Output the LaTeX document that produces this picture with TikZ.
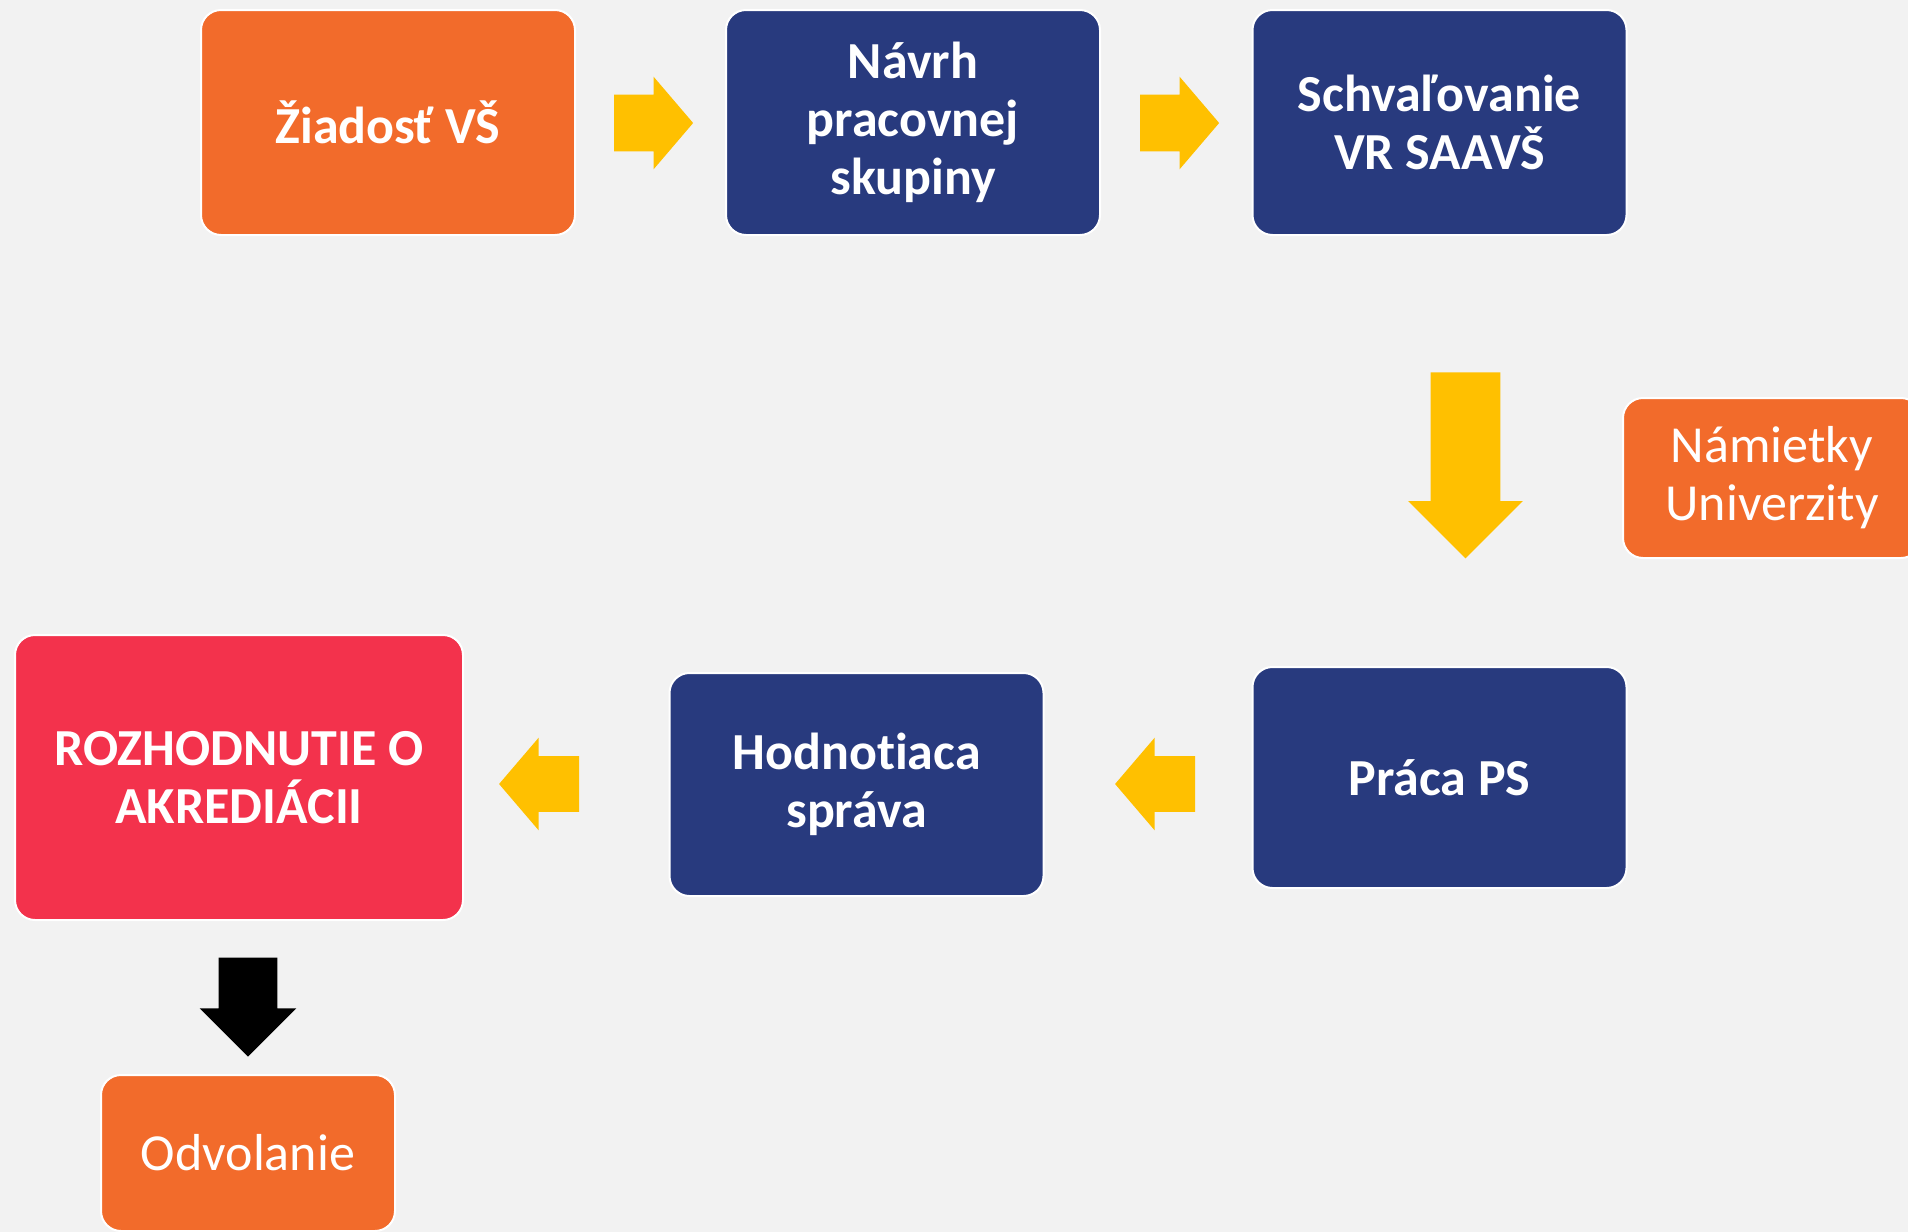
\documentclass[tikz,border=0pt]{standalone}
\usepackage{fontspec}
\setmainfont{Carlito}[Ligatures=NoCommon]
\usepackage{xcolor}
\usepackage{tikz}
\usetikzlibrary{shapes,arrows,positioning,calc}
\definecolor{bggray}{HTML}{F2F2F2}
\definecolor{korange}{HTML}{F26B2B}
\definecolor{kblue}{HTML}{283A7E}
\definecolor{kred}{HTML}{F3324C}
\definecolor{kyellow}{HTML}{FFC000}

\begin{document}
\begin{tikzpicture}[x=0.5pt,y=-0.5pt,
    kbox/.style={draw=white, line width=1pt, rounded corners=10pt, align=center,
        text=white, inner sep=0pt, font=\fontsize{26}{29}\selectfont\bfseries},
    kplain/.style={kbox, font=\fontsize{26}{29}\selectfont},
    karrow/.style={single arrow, fill=kyellow, draw=none, inner xsep=0pt,
        single arrow tip angle=99}]
    \fill[bggray] (0,0) rectangle (1908,1232);
    \useasboundingbox (0,0) rectangle (1908,1232);

    % top row
    \node[kbox, fill=korange, minimum width=187pt, minimum height=112.5pt] (ziadost) at (388,122.5) {Žiadosť VŠ};
    \node[kbox, fill=kblue, minimum width=187pt, minimum height=112.5pt] (navrh) at (913,122.5) {Návrh\\pracovnej\\skupiny};
    \node[kbox, fill=kblue, minimum width=187pt, minimum height=112.5pt] (schval) at (1439.5,122.5) {Schvaľovanie\\VR SAAVŠ};

    \node[kplain, fill=korange, minimum width=149pt, minimum height=80pt] (namietky) at (1772,478) {Námietky\\Univerzity};

    % bottom row
    \node[kbox, fill=kblue, minimum width=187pt, minimum height=110.5pt] (praca) at (1439.5,777.5) {Práca PS};
    \node[kbox, fill=kblue, minimum width=187pt, minimum height=111.5pt] (hodn) at (856.5,784.5) {Hodnotiaca\\správa};
    \node[kbox, fill=kred, minimum width=224pt, minimum height=142.5pt] (rozh) at (239,777.5) {ROZHODNUTIE O\\AKREDIÁCII};
    \node[kplain, fill=korange, minimum width=147pt, minimum height=78pt] (odvol) at (248,1153) {Odvolanie};

    % block arrows (centres pulled back against the tip)
    \node[karrow, inner ysep=14pt, single arrow head extend=9pt, minimum height=39.5pt] (ar1) at (641.5,123) {};
    \node[karrow, inner ysep=14pt, single arrow head extend=9pt, minimum height=39.5pt] (ar2) at (1167.5,123) {};
    \node[karrow, rotate=-90, inner ysep=17.25pt, single arrow head extend=11.25pt, single arrow tip angle=90, minimum height=93pt] (ar3) at (1465.5,448) {};
    \node[karrow, rotate=180, inner ysep=13.75pt, single arrow head extend=9.25pt, minimum height=40pt] (ar4) at (1167,784) {};
    \node[karrow, rotate=180, inner ysep=13.75pt, single arrow head extend=9.25pt, minimum height=40pt] (ar5) at (551,784) {};
    \node[karrow, fill=black, rotate=-90, inner ysep=14.5pt, single arrow head extend=9.5pt, single arrow tip angle=90, minimum height=49.5pt] (ar6) at (248,992.5) {};
\end{tikzpicture}
\end{document}
